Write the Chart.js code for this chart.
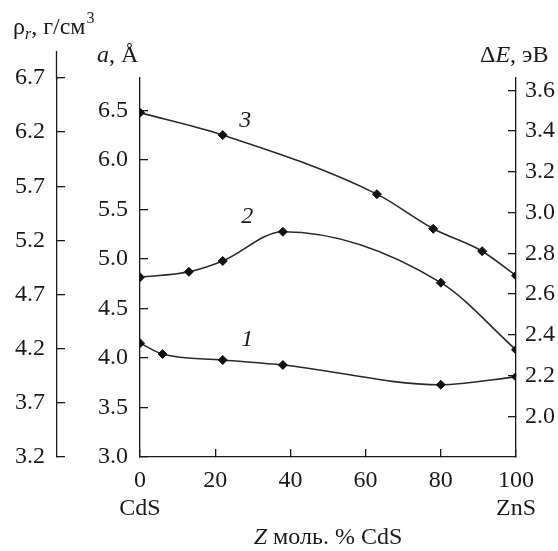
<!DOCTYPE html>
<html>
<head>
<meta charset="utf-8">
<script src="https://cdn.jsdelivr.net/npm/chart.js@4.4.1/dist/chart.umd.min.js"></script>
<style>
html,body{margin:0;padding:0;background:#fff;}
canvas{display:block;}
</style>
</head>
<body>
<canvas id="c" width="558" height="551"></canvas>
<script>
// Composition Z, mol. % CdS
const xTicks = [0, 20, 40, 60, 80, 100];
const rhoTicks = [3.2, 3.7, 4.2, 4.7, 5.2, 5.7, 6.2, 6.7];
const aTicks = [3.0, 3.5, 4.0, 4.5, 5.0, 5.5, 6.0, 6.5];
const eTicks = [2.0, 2.2, 2.4, 2.6, 2.8, 3.0, 3.2, 3.4, 3.6];

// Curve 1 (lattice parameter a, Å)
const x1 = [0, 6, 22, 38, 80, 100];
const y1 = [4.15, 4.04, 3.98, 3.93, 3.73, 3.81];
// Curve 2 (density ρr, g/cm3)
const x2 = [0, 13, 22, 38, 80, 100];
const y2 = [4.86, 4.91, 5.01, 5.28, 4.81, 4.19];
// Curve 3 (band gap ΔE, eV)
const x3 = [0, 22, 63, 78, 91, 100];
const y3 = [3.49, 3.38, 3.09, 2.92, 2.81, 2.69];

const FONT = "'Liberation Serif', 'DejaVu Serif', serif";
const INK = '#1a1a1a';

function pts(xs, ys) { return xs.map((x, i) => ({x: x, y: ys[i]})); }
function keepTicks(list) {
  return function(scale) {
    scale.ticks = list.map(v => ({value: v}));
  };
}
function ds(xs, ys, axis) {
  return {
    data: pts(xs, ys), yAxisID: axis,
    borderColor: '#2a2a2a', borderWidth: 1.6,
    pointStyle: 'rectRot', pointRadius: 4.5,
    pointBackgroundColor: '#111', pointBorderColor: '#111', pointBorderWidth: 1,
    cubicInterpolationMode: 'monotone', fill: false
  };
}

const titlePlugin = {
  id: 'titles',
  afterDraw(chart) {
    const ctx = chart.ctx;
    const s = chart.scales;
    ctx.save();
    // extend the density axis line upward
    ctx.strokeStyle = INK; ctx.lineWidth = 1.3;
    const rx = Math.round(s.rho.right) - 0.5;
    ctx.beginPath();
    ctx.moveTo(rx, s.rho.top + 1);
    ctx.lineTo(rx, s.rho.getPixelForValue(6.95));
    ctx.stroke();

    ctx.fillStyle = INK;
    ctx.textBaseline = 'alphabetic';
    ctx.textAlign = 'left';
    // ρr, г/см3
    let x = 13, y = 34;
    ctx.font = '24px ' + FONT; ctx.fillText('ρ', x, y); x += ctx.measureText('ρ').width;
    ctx.font = 'italic 16px ' + FONT; ctx.fillText('r', x, y + 5); x += ctx.measureText('r').width;
    ctx.font = '24px ' + FONT; ctx.fillText(', г/см', x, y); x += ctx.measureText(', г/см').width;
    ctx.font = '16px ' + FONT; ctx.fillText('3', x + 1, y - 11);
    // a, Å
    x = 97; y = 62;
    ctx.font = 'italic 24px ' + FONT; ctx.fillText('a', x, y); x += ctx.measureText('a').width;
    ctx.font = '24px ' + FONT; ctx.fillText(', Å', x, y);
    // ΔE, эВ
    x = 480; y = 62;
    ctx.font = '24px ' + FONT; ctx.fillText('Δ', x, y); x += ctx.measureText('Δ').width;
    ctx.font = 'italic 24px ' + FONT; ctx.fillText('E', x, y); x += ctx.measureText('E').width;
    ctx.font = '24px ' + FONT; ctx.fillText(', эВ', x, y);
    // x title
    ctx.font = 'italic 24px ' + FONT;
    const zw = ctx.measureText('Z').width;
    ctx.font = '24px ' + FONT;
    const rest = ' моль. % CdS';
    const rw = ctx.measureText(rest).width;
    const cx = (chart.chartArea.left + chart.chartArea.right) / 2;
    x = cx - (zw + rw) / 2; y = 544;
    ctx.font = 'italic 24px ' + FONT; ctx.fillText('Z', x, y);
    ctx.font = '24px ' + FONT; ctx.fillText(rest, x + zw, y);
    // curve labels
    ctx.font = 'italic 24px ' + FONT;
    ctx.textAlign = 'center'; ctx.textBaseline = 'middle';
    ctx.fillText('3', s.x.getPixelForValue(28), s.dE.getPixelForValue(3.45));
    ctx.fillText('2', s.x.getPixelForValue(28.5), s.a.getPixelForValue(5.43));
    ctx.fillText('1', s.x.getPixelForValue(28.5), s.a.getPixelForValue(4.19));
    ctx.restore();
  }
};

const tickFont = {family: FONT, size: 24};
const gridCommon = {drawOnChartArea: false, drawTicks: true, tickLength: -8, color: INK, lineWidth: 1.3};
const borderCommon = {display: true, color: INK, width: 1.3};

new Chart(document.getElementById('c'), {
  type: 'line',
  data: { datasets: [ds(x1, y1, 'a'), ds(x2, y2, 'rho'), ds(x3, y3, 'dE')] },
  options: {
    responsive: false, animation: false, devicePixelRatio: 1,
    layout: {padding: {top: 78, left: 0, right: 0, bottom: 0}},
    plugins: {legend: {display: false}, tooltip: {enabled: false}},
    scales: {
      x: {
        type: 'linear', position: 'bottom', min: 0, max: 100,
        afterBuildTicks: keepTicks(xTicks),
        afterFit(s) { s.height = 94; },
        grid: gridCommon, border: borderCommon,
        ticks: {
          font: tickFont, color: INK, padding: 17, maxRotation: 0, autoSkip: false,
          callback(v) {
            if (v === 0) return ['0', 'CdS'];
            if (v === 100) return ['100', 'ZnS'];
            return String(v);
          }
        }
      },
      rho: {
        type: 'linear', position: 'left', weight: 2, min: 3.2, max: 6.7,
        afterBuildTicks: keepTicks(rhoTicks),
        afterFit(s) { s.width = 57; },
        grid: gridCommon, border: borderCommon,
        ticks: {font: tickFont, color: INK, padding: 20, autoSkip: false, callback: v => v.toFixed(1)}
      },
      a: {
        type: 'linear', position: 'left', weight: 1, min: 3.0, max: 6.83,
        afterBuildTicks: keepTicks(aTicks),
        afterFit(s) { s.width = 83; },
        grid: gridCommon, border: borderCommon,
        ticks: {font: tickFont, color: INK, padding: 20, autoSkip: false, callback: v => v.toFixed(1)}
      },
      dE: {
        type: 'linear', position: 'right', min: 1.8, max: 3.66,
        afterBuildTicks: keepTicks(eTicks),
        afterFit(s) { s.width = 42; },
        grid: gridCommon, border: borderCommon,
        ticks: {font: tickFont, color: INK, padding: 17, autoSkip: false, callback: v => v.toFixed(1)}
      }
    }
  },
  plugins: [titlePlugin]
});
</script>
</body>
</html>
